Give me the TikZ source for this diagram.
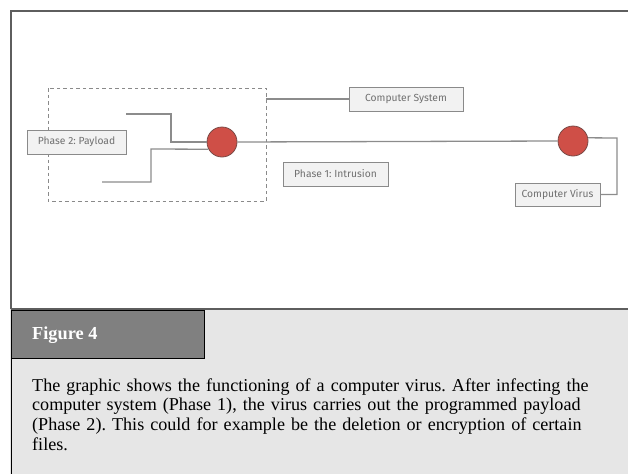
\documentclass[tikz,border=0pt]{standalone}
\usepackage{fontspec}
\setmainfont{Liberation Serif}
\newfontfamily\diafont{Fira Sans}
\definecolor{frameline}{HTML}{5E5E5E}
\definecolor{conline}{HTML}{8C8C8C}
\definecolor{boxfill}{HTML}{F2F2F2}
\definecolor{boxline}{HTML}{8A8A8A}
\definecolor{dtext}{HTML}{707070}
\definecolor{virusred}{HTML}{CF4F47}
\definecolor{virusedge}{HTML}{7A4A46}
\definecolor{capgrey}{HTML}{E6E6E6}
\definecolor{tabgrey}{HTML}{808080}
\tikzset{
  labelbox/.style={draw=boxline, fill=boxfill, line width=1pt, inner sep=0pt,
    font=\diafont\fontsize{10.3}{12}\selectfont, text=dtext, minimum height=24pt},
  virus/.style={circle, draw=virusedge, fill=virusred, line width=0.8pt, minimum size=30pt, inner sep=0pt},
  conn/.style={draw=conline, line width=1.3pt},
}
\begin{document}
\frenchspacing
\begin{tikzpicture}[x=1pt,y=-1pt]
\useasboundingbox (0,0) rectangle (628,474);
% caption area
\fill[capgrey] (10,309) rectangle (628,474);
\draw[black, line width=1pt] (11,309) -- (11,474);
\node[draw=black, fill=tabgrey, line width=1pt, minimum width=193pt, minimum height=48pt, anchor=north west, inner sep=0pt] (tab) at (10.5,309.5) {};
\node[anchor=base west, text=white, font=\bfseries\fontsize{18.3}{20}\selectfont, inner sep=0pt] (fig) at (32,339) {Figure 4};
\node[anchor=base west, inner sep=0pt, text width=590pt, align=left,
  font=\fontsize{18.1}{19.7}\selectfont] (cap) at (32,391)
  {The graphic shows the functioning of a computer virus. After infecting the\\
   computer system (Phase 1), the virus carries out the programmed payload\\
   (Phase 2). This could for example be the deletion or encryption of certain\\
   files.};
% frame of the diagram
\draw[frameline, line width=2pt] (11,309) -- (11,11) -- (628,11);
\draw[frameline, line width=1.5pt] (11,309) -- (628,309);
% dashed box
\draw[boxline, line width=1pt, dash pattern=on 3.5pt off 3pt] (48,88) rectangle (266,201);
% nodes
\node[virus] (c1) at (222,142) {};
\node[virus] (c2) at (573,141) {};
\node[labelbox, minimum width=99pt] (p2) at (76.5,142) {Phase 2: Payload};
\node[labelbox, minimum width=114pt] (cs) at (406,99) {Computer System};
\node[labelbox, minimum width=105pt] (p1) at (335.5,174) {Phase 1: Intrusion};
\node[labelbox, minimum width=85pt, minimum height=23pt] (cv) at (557.5,194.5) {Computer Virus};
\coordinate (u1) at (126,114);
\coordinate (l1) at (102,182);
\coordinate (dbr) at (266,99);
% connectors
\draw[conn] (c1.east) -- (c2.west);
\draw[conn] (u1) -- (171,114) -- (171,142) -- (c1.west);
\draw[conn] (l1) -- (151,182) -- (151,149) -- (c1.208);
\draw[conn] (dbr) -- (cs.west);
\draw[conn] (c2.12) -- (617,138) |- (cv.east);
\end{tikzpicture}
\end{document}
